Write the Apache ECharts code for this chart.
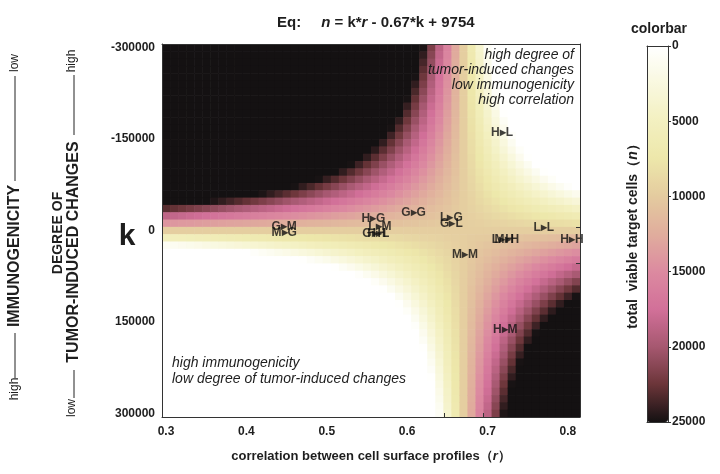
<!DOCTYPE html>
<html>
<head>
<meta charset="utf-8">
<script src="https://cdn.jsdelivr.net/npm/echarts@6.0.0/dist/echarts.min.js"></script>
<style>
  html, body { margin: 0; padding: 0; background: #fff; }
  #main { width: 720px; height: 474px; }
</style>
</head>
<body>
<div id="main"></div>
<script>
// the map is the equation printed above the chart: n = k*r - 0.67*k + 9754
const eqSlopeOffset = 0.67;
const eqIntercept = 9754;
const nMin = 0, nMax = 25000;

// sampling of the map (one cell per r column and per k row)
const rStart = 0.30, rStep = 0.01, rCount = 52;
const kStart = -300000, kStep = 12000, kCount = 51;

const xTicks = [0.3, 0.4, 0.5, 0.6, 0.7, 0.8];
const yTicks = [-300000, -150000, 0, 150000, 300000];
const cbTicks = [0, 5000, 10000, 15000, 20000, 25000];

// labelled pairs and where they sit (r, k)
const pairNames = ['H▸L', 'G▸G', 'L▸G', 'G▸L', 'L▸L', 'L▸H', 'M▸H', 'H▸H',
                   'M▸M', 'H▸M', 'G▸M', 'M▸G', 'H▸G', 'L▸M', 'G▸H', 'H▸L'];
const pairR = [0.718, 0.608, 0.655, 0.655, 0.770, 0.719, 0.724, 0.805,
               0.672, 0.722, 0.447, 0.447, 0.558, 0.566, 0.559, 0.564];
const pairK = [-161000, -28700, -20600, -10900, -4400, 14600, 14600, 14600,
               38900, 163300, -7000, 3700, -19500, -6000, 5400, 5400];

const pinkMap = ['#ffffff', '#f9f8df', '#f3f0c0', '#ede7aa', '#e4cb9f', '#e0ad9d',
                 '#dc8aa0', '#d27099', '#a65870', '#6b3539', '#141112'];

const cells = [];
for (let i = 0; i < rCount; i++) {
  const r = +(rStart + i * rStep).toFixed(2);
  for (let j = 0; j < kCount; j++) {
    const k = kStart + j * kStep;
    let n = k * r - eqSlopeOffset * k + eqIntercept;
    n = Math.min(nMax, Math.max(nMin, n));
    cells.push([r, k, n]);
  }
}

const FONT = '"Liberation Sans", Arial, sans-serif';
const ink = '#1e1e1e';

var myChart = echarts.init(document.getElementById('main'), null, { renderer: 'canvas' });
var option;

const frameAxis = { show: true, onZero: false, lineStyle: { color: '#333', width: 1 } };
const plain = { axisLine: frameAxis, axisTick: { show: false }, axisLabel: { show: false }, splitLine: { show: false } };

function rotText(x, y, text, font) {
  return {
    type: 'text', x: x, y: y, rotation: Math.PI / 2,
    style: { text: text, font: font + ' ' + FONT, fill: ink, textAlign: 'center', textVerticalAlign: 'middle' }
  };
}
function vLine(x, y1, y2) {
  return { type: 'line', shape: { x1: x, y1: y1, x2: x, y2: y2 }, style: { stroke: '#222', lineWidth: 1 } };
}

option = {
  animation: false,
  textStyle: { fontFamily: FONT },
  title: {
    text: '{b|Eq:}    {i|n}{b| = k*}{i|r}{b| - 0.67*k + 9754}',
    left: 272, top: 9,
    textStyle: {
      rich: {
        b: { fontWeight: 'bold', fontSize: 15, color: ink, fontFamily: FONT },
        i: { fontWeight: 'bold', fontStyle: 'italic', fontSize: 15, color: ink, fontFamily: FONT }
      }
    }
  },
  grid: [
    { left: 162, right: 140, top: 44, bottom: 57 },
    { left: 647, width: 21, top: 46, height: 376 }
  ],
  xAxis: [
    {
      type: 'value', gridIndex: 0, min: 0.295, max: 0.815, position: 'bottom', z: 10,
      axisLine: frameAxis, splitLine: { show: false },
      axisTick: { show: true, inside: true, length: 4, customValues: [0.646, 0.695], lineStyle: { color: '#333' } },
      axisLabel: {
        customValues: xTicks, formatter: v => v.toFixed(1),
        fontWeight: 'bold', fontSize: 12, color: ink, margin: 9
      },
      name: 'correlation between cell surface profiles（{i|r}）',
      nameLocation: 'middle', nameGap: 33,
      nameTextStyle: {
        fontWeight: 'bold', fontSize: 13, color: ink,
        rich: { i: { fontStyle: 'italic', fontWeight: 'bold', fontSize: 13, color: ink } }
      }
    },
    Object.assign({ type: 'value', gridIndex: 0, min: 0.295, max: 0.815, position: 'top', z: 10 }, plain),
    Object.assign({ type: 'value', gridIndex: 1, min: 0, max: 1, position: 'bottom', z: 10 }, plain),
    Object.assign({ type: 'value', gridIndex: 1, min: 0, max: 1, position: 'top', z: 10 }, plain)
  ],
  yAxis: [
    {
      type: 'value', gridIndex: 0, inverse: true, min: -306000, max: 306000, position: 'left', z: 10,
      axisLine: frameAxis, axisTick: { show: false }, splitLine: { show: false },
      axisLabel: {
        customValues: yTicks, formatter: v => String(v),
        fontWeight: 'bold', fontSize: 12, color: ink, margin: 7
      }
    },
    {
      type: 'value', gridIndex: 0, inverse: true, min: -306000, max: 306000, position: 'right', z: 10,
      axisLine: frameAxis, axisLabel: { show: false }, splitLine: { show: false },
      axisTick: { show: true, inside: true, length: 4, customValues: [-6000, 53000], lineStyle: { color: '#333' } }
    },
    {
      type: 'value', gridIndex: 1, inverse: true, min: nMin, max: nMax, position: 'right', z: 10,
      axisLine: frameAxis, splitLine: { show: false },
      axisTick: { show: true, length: 3, customValues: cbTicks, lineStyle: { color: '#333' } },
      axisLabel: { customValues: cbTicks, fontWeight: 'bold', fontSize: 12, color: ink, margin: 4, formatter: v => String(v) }
    },
    Object.assign({ type: 'value', gridIndex: 1, inverse: true, min: nMin, max: nMax, position: 'left', z: 10 }, plain)
  ],
  visualMap: {
    type: 'continuous', seriesIndex: 0, dimension: 2,
    min: nMin, max: nMax, inverse: true, orient: 'vertical',
    left: 647, top: 46, itemWidth: 21, itemHeight: 376, padding: 0,
    calculable: false, hoverLink: false, text: null,
    inRange: { color: pinkMap }
  },
  series: [
    {
      type: 'custom', xAxisIndex: 0, yAxisIndex: 0, data: cells, clip: true, silent: true,
      encode: { x: 0, y: 1 },
      renderItem(params, api) {
        const a = api.coord([api.value(0) - rStep / 2, api.value(1) - kStep / 2]);
        const b = api.coord([api.value(0) + rStep / 2, api.value(1) + kStep / 2]);
        return {
          type: 'rect',
          shape: {
            x: Math.min(a[0], b[0]), y: Math.min(a[1], b[1]),
            width: Math.abs(b[0] - a[0]) + 0.6, height: Math.abs(b[1] - a[1]) + 0.6
          },
          style: { fill: api.visual('color') }
        };
      }
    },
    {
      type: 'scatter', xAxisIndex: 0, yAxisIndex: 0, z: 5, silent: true,
      symbolSize: 1, itemStyle: { color: 'rgba(0,0,0,0)' },
      data: pairNames.map((nm, i) => ({ name: nm, value: [pairR[i], pairK[i]] })),
      label: {
        show: true, position: 'inside', formatter: '{b}',
        fontWeight: 'bold', fontSize: 12, color: '#111', fontFamily: FONT
      }
    }
  ],
  graphic: [
    // notes inside the map
    {
      type: 'text', x: 574, y: 48, z: 20,
      style: {
        text: 'high degree of\ntumor-induced changes\nlow immunogenicity\nhigh correlation',
        font: 'italic 14px ' + FONT, fill: ink, textAlign: 'right', lineHeight: 15
      }
    },
    {
      type: 'text', x: 172, y: 355, z: 20,
      style: {
        text: 'high immunogenicity\nlow degree of tumor-induced changes',
        font: 'italic 14px ' + FONT, fill: ink, textAlign: 'left', lineHeight: 16
      }
    },
    {
      type: 'text', x: 127, y: 237, z: 20,
      style: { text: 'k', font: 'bold 30px ' + FONT, fill: ink, textAlign: 'center', textVerticalAlign: 'middle' }
    },
    // left legends, reading bottom to top
    rotText(15, 389, 'high', '12px'),
    vLine(15, 378, 333),
    rotText(15, 256, 'IMMUNOGENICITY', 'bold 16px'),
    vLine(15, 181, 76),
    rotText(15, 63, 'low', '12px'),
    rotText(58, 233, 'DEGREE OF', 'bold 14px'),
    rotText(72, 408, 'low', '12px'),
    vLine(74, 398, 370),
    rotText(74, 252, 'TUMOR-INDUCED CHANGES', 'bold 16px'),
    vLine(74, 135, 75),
    rotText(72, 61, 'high', '12px'),
    // colorbar captions
    {
      type: 'text', x: 659, y: 29,
      style: { text: 'colorbar', font: 'bold 14px ' + FONT, fill: ink, textAlign: 'center', textVerticalAlign: 'middle' }
    },
    {
      type: 'text', x: 633, y: 233, rotation: Math.PI / 2,
      style: {
        text: '{b|total  viable target cells（}{i|n}{b|）}',
        textAlign: 'center', textVerticalAlign: 'middle',
        rich: {
          b: { fontWeight: 'bold', fontSize: 14, fill: ink, fontFamily: FONT },
          i: { fontWeight: 'bold', fontStyle: 'italic', fontSize: 14, fill: ink, fontFamily: FONT }
        }
      }
    }
  ]
};

option && myChart.setOption(option);
</script>
</body>
</html>
